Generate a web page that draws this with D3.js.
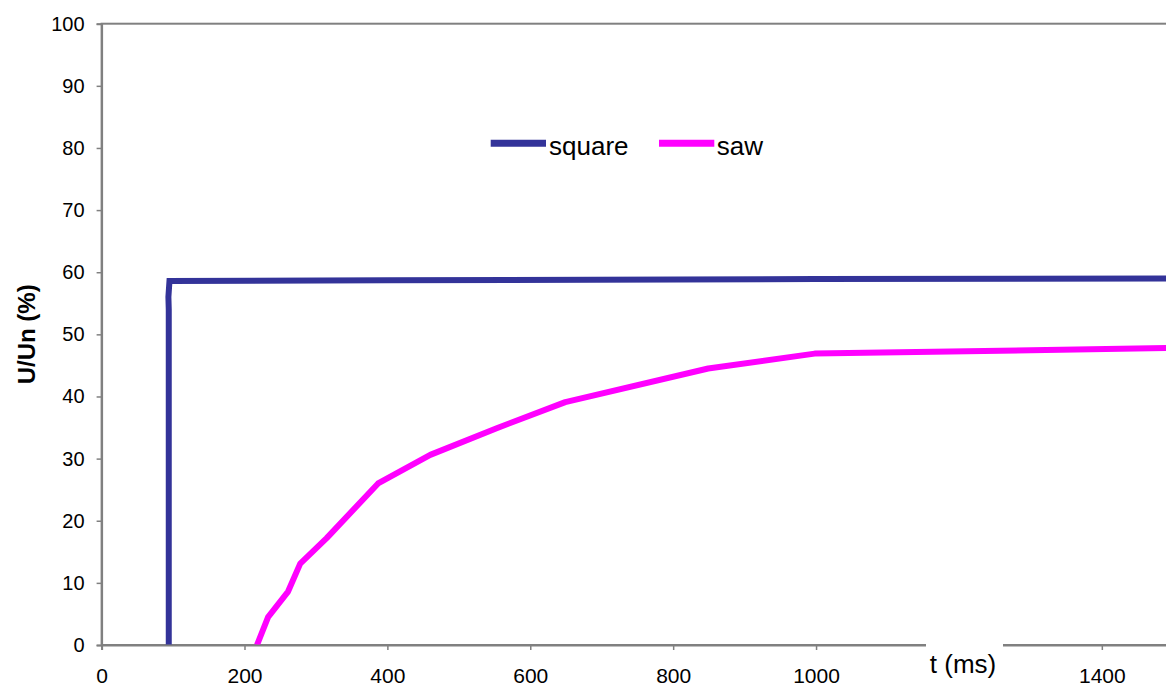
<!DOCTYPE html>
<html>
<head>
<meta charset="utf-8">
<script src="https://cdn.jsdelivr.net/npm/d3@7"></script>
<style>
  html, body { margin: 0; padding: 0; background: #fff; }
  svg { display: block; font-family: "Liberation Sans", Arial, sans-serif; }
</style>
</head>
<body>
<svg id="chart" width="1166" height="686"></svg>
<script>
// ---- data ----
const seriesNames = ["square", "saw"];
const squareT = [94, 94, 93.5, 95, 400, 1000, 1600];
const squareU = [0, 54, 56, 58.6, 58.7, 58.9, 59.0];
const sawT = [217.5, 233, 261, 278, 315, 387, 460, 553, 649, 849, 998, 1600];
const sawU = [0, 4.5, 8.6, 13.1, 17.2, 26.0, 30.6, 34.9, 39.1, 44.5, 46.9, 48.0];
const xTicks = [0, 200, 400, 600, 800, 1000, 1200, 1400];
const xHiddenLabels = [1200]; // covered by the axis title box in the reference
const yTicks = [0, 10, 20, 30, 40, 50, 60, 70, 80, 90, 100];
const xTitle = "t (ms)";
const yTitle = "U/Un (%)";

// ---- layout ----
const svg = d3.select("#chart");
const plotLeft = 101.6, plotTop = 23.7, plotBottom = 645;
const pxPerUnit = 0.71445;
const x = d3.scaleLinear().domain([0, 1600]).range([plotLeft, plotLeft + 1600 * pxPerUnit]);
const y = d3.scaleLinear().domain([0, 100]).range([plotBottom, plotTop]);
const axisColor = "#808080";
const colors = { square: "#333399", saw: "#FF00FF" };

// clip for plot content
svg.append("defs").append("clipPath").attr("id", "clip")
  .append("rect").attr("x", plotLeft).attr("y", plotTop)
  .attr("width", x(1600) - plotLeft).attr("height", plotBottom - plotTop);

// frame
svg.append("rect")
  .attr("x", plotLeft).attr("y", plotTop)
  .attr("width", x(1600) - plotLeft).attr("height", plotBottom - plotTop)
  .attr("fill", "none").attr("stroke", axisColor).attr("stroke-width", 2);

// series
const line = d3.line().x(d => x(d[0])).y(d => y(d[1]));
const sqData = squareT.map((t, i) => [t, squareU[i]]);
const sawData = sawT.map((t, i) => [t, sawU[i]]);
const plot = svg.append("g").attr("clip-path", "url(#clip)");
plot.append("path").datum(sqData).attr("d", line)
  .attr("fill", "none").attr("stroke", colors.square).attr("stroke-width", 6).attr("stroke-linejoin", "miter");
plot.append("path").datum(sawData).attr("d", line)
  .attr("fill", "none").attr("stroke", colors.saw).attr("stroke-width", 6).attr("stroke-linejoin", "round");

// y axis
const yAxis = svg.append("g").attr("transform", `translate(${plotLeft},0)`)
  .call(d3.axisLeft(y).tickValues(yTicks).tickSize(5).tickPadding(12).tickFormat(d3.format("d")));
yAxis.select(".domain").attr("stroke", axisColor).attr("stroke-width", 2);
yAxis.selectAll(".tick line").attr("stroke", axisColor).attr("stroke-width", 1.5);
yAxis.selectAll(".tick text").attr("font-size", 20).attr("fill", "#000")
  .attr("font-family", "'Liberation Sans', Arial, sans-serif");

// x axis
const xAxis = svg.append("g").attr("transform", `translate(0,${plotBottom})`)
  .call(d3.axisBottom(x).tickValues(xTicks).tickSize(5).tickPadding(18)
    .tickFormat(d => xHiddenLabels.includes(d) ? "" : d3.format("d")(d)));
xAxis.select(".domain").attr("stroke", axisColor).attr("stroke-width", 2);
xAxis.selectAll(".tick line").attr("stroke", axisColor).attr("stroke-width", 1.5);
xAxis.selectAll(".tick text").attr("font-size", 21).attr("fill", "#000")
  .attr("font-family", "'Liberation Sans', Arial, sans-serif");

// x title with white box covering axis
svg.append("rect").attr("x", 926).attr("y", 641).attr("width", 77).attr("height", 45).attr("fill", "#fff");
svg.append("text").attr("x", 963).attr("y", 673).attr("text-anchor", "middle")
  .attr("font-size", 26).attr("fill", "#000").text(xTitle);

// y title
svg.append("text")
  .attr("transform", `translate(35,${(plotTop + plotBottom) / 2}) rotate(-90)`)
  .attr("text-anchor", "middle").attr("font-size", 24).attr("font-weight", "bold")
  .attr("fill", "#000").text(yTitle);

// legend
const legend = svg.append("g");
const legendPos = [{ x0: 490.7, x1: 546, tx: 549 }, { x0: 659, x1: 714.3, tx: 716.7 }];
seriesNames.forEach((name, i) => {
  const p = legendPos[i];
  legend.append("line").attr("x1", p.x0).attr("x2", p.x1).attr("y1", 143.3).attr("y2", 143.3)
    .attr("stroke", colors[name]).attr("stroke-width", 7);
  legend.append("text").attr("x", p.tx).attr("y", 155).attr("font-size", 26).attr("fill", "#000").text(name);
});
</script>
</body>
</html>
